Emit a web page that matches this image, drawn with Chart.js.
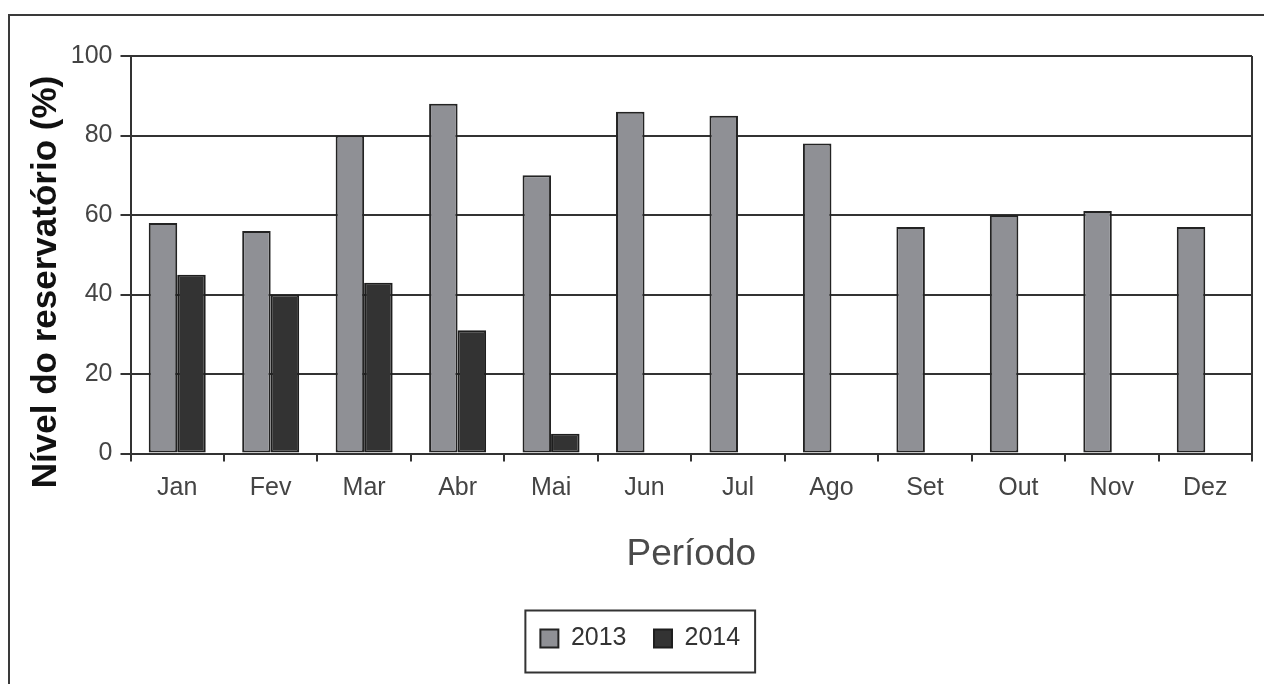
<!DOCTYPE html>
<html lang="pt">
<head>
<meta charset="utf-8">
<title>Nível do reservatório</title>
<script src="https://cdn.jsdelivr.net/npm/chart.js@4/dist/chart.umd.min.js"></script>
<style>
  html, body { margin: 0; padding: 0; background: #fff; }
  #wrap { position: relative; width: 1264px; height: 684px; overflow: hidden; }
  #frame {
    position: absolute; left: 8px; top: 14px; width: 1300px; height: 700px;
    border-top: 2px solid #3a3a3a; border-left: 2px solid #3a3a3a;
    box-sizing: border-box; pointer-events: none;
  }
  #chart { position: absolute; left: 0; top: 0; }
</style>
</head>
<body>
<div id="wrap">
  <div id="frame"></div>
  <canvas id="chart" width="1264" height="684"></canvas>
</div>
<script>
// Monthly reservoir level (%)
const months = ['Jan', 'Fev', 'Mar', 'Abr', 'Mai', 'Jun', 'Jul', 'Ago', 'Set', 'Out', 'Nov', 'Dez'];
const nivel2013 = [58, 56, 80, 88, 70, 86, 85, 78, 57, 60, 61, 57];
const nivel2014 = [45, 40, 43, 31, 5, null, null, null, null, null, null, null];
const seriesNames = ['2013', '2014'];
const yMin = 0, yMax = 100, yStep = 20;
const yTitle = 'Nível do reservatório (%)';
const xTitle = 'Período';

const FONT = "'Liberation Sans', Arial, Helvetica, sans-serif";
const INK = '#333333';

// Right edge of the plot frame, the rotated y title and the legend box
const framePlugin = {
  id: 'frameExtras',
  afterDraw(chart) {
    const { ctx, chartArea } = chart;
    ctx.save();
    ctx.strokeStyle = INK;
    ctx.lineWidth = 2;
    ctx.beginPath();
    ctx.moveTo(chartArea.right, chartArea.top);
    ctx.lineTo(chartArea.right, chartArea.bottom);
    ctx.stroke();

    // y axis title
    ctx.translate(55.5, 282);
    ctx.rotate(-Math.PI / 2);
    ctx.fillStyle = '#111';
    ctx.font = 'bold 35px ' + FONT;
    ctx.textAlign = 'center';
    ctx.textBaseline = 'alphabetic';
    ctx.fillText(yTitle, 0, 0);
    ctx.restore();

    // box around the legend
    const lg = chart.legend;
    if (lg && lg.legendHitBoxes && lg.legendHitBoxes.length) {
      const hb = lg.legendHitBoxes;
      const first = hb[0], last = hb[hb.length - 1];
      const cy = first.top + first.height / 2;
      const left = first.left - 15;
      const right = last.left + last.width + 15;
      ctx.save();
      ctx.strokeStyle = INK;
      ctx.lineWidth = 2;
      ctx.strokeRect(left, cy - 28, right - left, 62);
      ctx.restore();
    }
  }
};

new Chart(document.getElementById('chart'), {
  type: 'bar',
  data: {
    labels: months,
    datasets: [
      {
        label: seriesNames[0],
        data: nivel2013,
        backgroundColor: '#8f9095',
        borderColor: '#232323',
        borderWidth: 2,
        borderSkipped: false
      },
      {
        label: seriesNames[1],
        data: nivel2014,
        backgroundColor: '#333333',
        borderColor: '#1e1e1e',
        borderWidth: 2,
        borderSkipped: false
      }
    ]
  },
  options: {
    responsive: false,
    animation: false,
    devicePixelRatio: 1,
    datasets: { bar: { categoryPercentage: 0.61, barPercentage: 1.0 } },
    layout: { padding: { left: 28.5, right: 12, top: 56, bottom: 23 } },
    plugins: {
      tooltip: { enabled: false },
      legend: {
        position: 'bottom',
        labels: {
          boxWidth: 18,
          boxHeight: 18,
          padding: 27.5,
          color: INK,
          font: { family: FONT, size: 25 }
        }
      }
    },
    scales: {
      x: {
        offset: true,
        grid: {
          display: true,
          offset: true,
          drawOnChartArea: false,
          drawTicks: true,
          tickLength: 8,
          color: INK,
          lineWidth: 2
        },
        border: { display: true, color: INK, width: 2 },
        ticks: {
          color: '#444',
          padding: 12,
          font: { family: FONT, size: 25 },
          maxRotation: 0,
          autoSkip: false
        },
        title: {
          display: true,
          text: xTitle,
          color: '#4a4a4a',
          font: { family: FONT, size: 37 },
          padding: { top: 17, bottom: 21.5 }
        }
      },
      y: {
        min: yMin,
        max: yMax,
        afterFit(scale) { scale.width = 102; },
        grid: {
          color: INK,
          lineWidth: 2,
          drawTicks: true,
          tickLength: 10
        },
        border: { display: true, color: INK, width: 2 },
        ticks: {
          stepSize: yStep,
          color: '#444',
          padding: 8,
          font: { family: FONT, size: 25 }
        }
      }
    }
  },
  plugins: [framePlugin]
});
</script>
</body>
</html>
